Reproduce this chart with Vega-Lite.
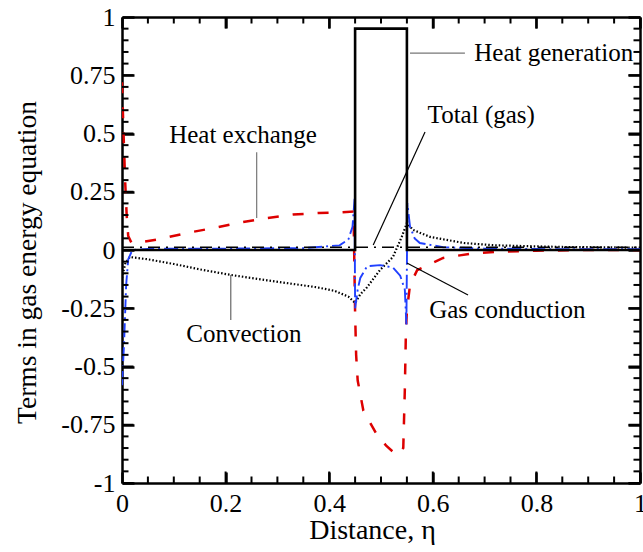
{
  "$schema": "https://vega.github.io/schema/vega-lite/v6.json",
  "width": 518,
  "height": 466,
  "autosize": "none",
  "padding": {"left": 122, "top": 17, "right": 3, "bottom": 69},
  "background": "white",
  "config": {
    "view": {"stroke": null},
    "font": "Liberation Serif",
    "text": {"font": "Liberation Serif"},
    "axis": {"grid": false, "ticks": true, "labelOverlap": false, "labelFlush": false, "domainColor": "black", "domainWidth": 2.5, "tickColor": "black", "labelColor": "black", "titleColor": "black", "labelFont": "Liberation Serif", "titleFont": "Liberation Serif", "titleFontWeight": "normal"}
  },
  "datasets": {
    "curves": [
      {"s": "Heat exchange", "x": 0, "y": 0.72},
      {"s": "Heat exchange", "x": 0.003, "y": 0.5},
      {"s": "Heat exchange", "x": 0.006, "y": 0.3},
      {"s": "Heat exchange", "x": 0.009, "y": 0.15},
      {"s": "Heat exchange", "x": 0.012, "y": 0.06},
      {"s": "Heat exchange", "x": 0.018, "y": 0.032},
      {"s": "Heat exchange", "x": 0.04, "y": 0.035},
      {"s": "Heat exchange", "x": 0.073, "y": 0.047},
      {"s": "Heat exchange", "x": 0.125, "y": 0.073},
      {"s": "Heat exchange", "x": 0.176, "y": 0.094},
      {"s": "Heat exchange", "x": 0.228, "y": 0.118},
      {"s": "Heat exchange", "x": 0.28, "y": 0.137},
      {"s": "Heat exchange", "x": 0.33, "y": 0.152},
      {"s": "Heat exchange", "x": 0.38, "y": 0.159},
      {"s": "Heat exchange", "x": 0.42, "y": 0.161},
      {"s": "Heat exchange", "x": 0.447, "y": 0.165},
      {"s": "Heat exchange", "x": 0.45, "y": -0.27},
      {"s": "Heat exchange", "x": 0.452, "y": -0.45},
      {"s": "Heat exchange", "x": 0.455, "y": -0.56},
      {"s": "Heat exchange", "x": 0.466, "y": -0.69},
      {"s": "Heat exchange", "x": 0.49, "y": -0.785},
      {"s": "Heat exchange", "x": 0.51, "y": -0.84},
      {"s": "Heat exchange", "x": 0.53, "y": -0.88},
      {"s": "Heat exchange", "x": 0.543, "y": -0.85},
      {"s": "Heat exchange", "x": 0.546, "y": -0.6},
      {"s": "Heat exchange", "x": 0.548, "y": -0.36},
      {"s": "Heat exchange", "x": 0.55, "y": -0.26},
      {"s": "Heat exchange", "x": 0.556, "y": -0.15},
      {"s": "Heat exchange", "x": 0.57, "y": -0.086},
      {"s": "Heat exchange", "x": 0.62, "y": -0.034},
      {"s": "Heat exchange", "x": 0.67, "y": -0.017},
      {"s": "Heat exchange", "x": 0.72, "y": -0.008},
      {"s": "Heat exchange", "x": 0.8, "y": -0.003},
      {"s": "Heat exchange", "x": 0.9, "y": 0.0},
      {"s": "Heat exchange", "x": 1, "y": 0.0},

      {"s": "Convection", "x": 0, "y": -0.12},
      {"s": "Convection", "x": 0.006, "y": -0.06},
      {"s": "Convection", "x": 0.015, "y": -0.03},
      {"s": "Convection", "x": 0.05, "y": -0.04},
      {"s": "Convection", "x": 0.1, "y": -0.06},
      {"s": "Convection", "x": 0.15, "y": -0.083},
      {"s": "Convection", "x": 0.21, "y": -0.107},
      {"s": "Convection", "x": 0.28, "y": -0.13},
      {"s": "Convection", "x": 0.376, "y": -0.16},
      {"s": "Convection", "x": 0.41, "y": -0.175},
      {"s": "Convection", "x": 0.437, "y": -0.2},
      {"s": "Convection", "x": 0.45, "y": -0.227},
      {"s": "Convection", "x": 0.46, "y": -0.19},
      {"s": "Convection", "x": 0.473, "y": -0.16},
      {"s": "Convection", "x": 0.498, "y": -0.086},
      {"s": "Convection", "x": 0.523, "y": -0.03},
      {"s": "Convection", "x": 0.54, "y": 0.056},
      {"s": "Convection", "x": 0.55, "y": 0.116},
      {"s": "Convection", "x": 0.562, "y": 0.086},
      {"s": "Convection", "x": 0.595, "y": 0.056},
      {"s": "Convection", "x": 0.66, "y": 0.03},
      {"s": "Convection", "x": 0.72, "y": 0.02},
      {"s": "Convection", "x": 0.85, "y": 0.013},
      {"s": "Convection", "x": 1, "y": 0.01},

      {"s": "Gas conduction", "x": 0, "y": -0.58},
      {"s": "Gas conduction", "x": 0.004, "y": -0.4},
      {"s": "Gas conduction", "x": 0.008, "y": -0.15},
      {"s": "Gas conduction", "x": 0.012, "y": -0.04},
      {"s": "Gas conduction", "x": 0.02, "y": 0.0},
      {"s": "Gas conduction", "x": 0.05, "y": 0.005},
      {"s": "Gas conduction", "x": 0.2, "y": 0.006},
      {"s": "Gas conduction", "x": 0.35, "y": 0.008},
      {"s": "Gas conduction", "x": 0.42, "y": 0.02},
      {"s": "Gas conduction", "x": 0.437, "y": 0.045},
      {"s": "Gas conduction", "x": 0.445, "y": 0.1},
      {"s": "Gas conduction", "x": 0.449, "y": 0.22},
      {"s": "Gas conduction", "x": 0.45, "y": -0.25},
      {"s": "Gas conduction", "x": 0.455, "y": -0.17},
      {"s": "Gas conduction", "x": 0.46, "y": -0.12},
      {"s": "Gas conduction", "x": 0.473, "y": -0.07},
      {"s": "Gas conduction", "x": 0.498, "y": -0.065},
      {"s": "Gas conduction", "x": 0.523, "y": -0.075},
      {"s": "Gas conduction", "x": 0.537, "y": -0.11},
      {"s": "Gas conduction", "x": 0.546, "y": -0.17},
      {"s": "Gas conduction", "x": 0.549, "y": -0.32},
      {"s": "Gas conduction", "x": 0.551, "y": 0.2},
      {"s": "Gas conduction", "x": 0.556, "y": 0.1},
      {"s": "Gas conduction", "x": 0.565, "y": 0.05},
      {"s": "Gas conduction", "x": 0.575, "y": 0.03},
      {"s": "Gas conduction", "x": 0.62, "y": 0.012},
      {"s": "Gas conduction", "x": 0.7, "y": 0.006},
      {"s": "Gas conduction", "x": 0.8, "y": 0.004},
      {"s": "Gas conduction", "x": 1, "y": 0.003},

      {"s": "Total (gas)", "x": 0, "y": 0.012},
      {"s": "Total (gas)", "x": 0.2, "y": 0.012},
      {"s": "Total (gas)", "x": 0.45, "y": 0.012},
      {"s": "Total (gas)", "x": 0.55, "y": 0.012},
      {"s": "Total (gas)", "x": 0.8, "y": 0.012},
      {"s": "Total (gas)", "x": 1, "y": 0.012}
    ],
    "hgen": [
      {"i": 0, "x": 0, "y": 0},
      {"i": 1, "x": 0.45, "y": 0},
      {"i": 2, "x": 0.45, "y": 0.95},
      {"i": 3, "x": 0.55, "y": 0.95},
      {"i": 4, "x": 0.55, "y": 0},
      {"i": 5, "x": 1, "y": 0}
    ],
    "notes": [
      {"label": "Heat generation", "x": 0.68, "y": 0.845},
      {"label": "Total (gas)", "x": 0.59, "y": 0.579},
      {"label": "Heat exchange", "x": 0.091, "y": 0.494},
      {"label": "Convection", "x": 0.124, "y": -0.36},
      {"label": "Gas conduction", "x": 0.593, "y": -0.258}
    ],
    "pointers": [
      {"label": "Heat generation", "x1": 0.556, "y1": 0.845, "x2": 0.662, "y2": 0.845},
      {"label": "Total (gas)", "x1": 0.585, "y1": 0.506, "x2": 0.485, "y2": 0.021},
      {"label": "Heat exchange", "x1": 0.26, "y1": 0.42, "x2": 0.26, "y2": 0.137},
      {"label": "Convection", "x1": 0.21, "y1": -0.107, "x2": 0.21, "y2": -0.3},
      {"label": "Gas conduction", "x1": 0.55, "y1": -0.056, "x2": 0.668, "y2": -0.193}
    ],
    "xt": [
      {"v": 0, "k": "major"}, {"v": 0.05, "k": "minor"}, {"v": 0.1, "k": "minor"}, {"v": 0.15, "k": "minor"},
      {"v": 0.2, "k": "major"}, {"v": 0.25, "k": "minor"}, {"v": 0.3, "k": "minor"}, {"v": 0.35, "k": "minor"},
      {"v": 0.4, "k": "major"}, {"v": 0.45, "k": "minor"}, {"v": 0.5, "k": "minor"}, {"v": 0.55, "k": "minor"},
      {"v": 0.6, "k": "major"}, {"v": 0.65, "k": "minor"}, {"v": 0.7, "k": "minor"}, {"v": 0.75, "k": "minor"},
      {"v": 0.8, "k": "major"}, {"v": 0.85, "k": "minor"}, {"v": 0.9, "k": "minor"}, {"v": 0.95, "k": "minor"},
      {"v": 1, "k": "major"}
    ],
    "yt": [
      {"v": -1, "k": "major"}, {"v": -0.95, "k": "minor"}, {"v": -0.9, "k": "minor"}, {"v": -0.85, "k": "minor"}, {"v": -0.8, "k": "minor"},
      {"v": -0.75, "k": "major"}, {"v": -0.7, "k": "minor"}, {"v": -0.65, "k": "minor"}, {"v": -0.6, "k": "minor"}, {"v": -0.55, "k": "minor"},
      {"v": -0.5, "k": "major"}, {"v": -0.45, "k": "minor"}, {"v": -0.4, "k": "minor"}, {"v": -0.35, "k": "minor"}, {"v": -0.3, "k": "minor"},
      {"v": -0.25, "k": "major"}, {"v": -0.2, "k": "minor"}, {"v": -0.15, "k": "minor"}, {"v": -0.1, "k": "minor"}, {"v": -0.05, "k": "minor"},
      {"v": 0, "k": "major"}, {"v": 0.05, "k": "minor"}, {"v": 0.1, "k": "minor"}, {"v": 0.15, "k": "minor"}, {"v": 0.2, "k": "minor"},
      {"v": 0.25, "k": "major"}, {"v": 0.3, "k": "minor"}, {"v": 0.35, "k": "minor"}, {"v": 0.4, "k": "minor"}, {"v": 0.45, "k": "minor"},
      {"v": 0.5, "k": "major"}, {"v": 0.55, "k": "minor"}, {"v": 0.6, "k": "minor"}, {"v": 0.65, "k": "minor"}, {"v": 0.7, "k": "minor"},
      {"v": 0.75, "k": "major"}, {"v": 0.8, "k": "minor"}, {"v": 0.85, "k": "minor"}, {"v": 0.9, "k": "minor"}, {"v": 0.95, "k": "minor"},
      {"v": 1, "k": "major"}
    ]
  },
  "resolve": {"axis": {"x": "independent", "y": "independent"}, "scale": {"color": "independent"}},
  "layer": [
    {
      "data": {"name": "curves"},
      "mark": {"type": "line", "clip": true},
      "encoding": {
        "x": {"field": "x", "type": "quantitative", "scale": {"domain": [0, 1], "nice": false, "zero": false},
          "axis": {"orient": "bottom", "title": "Distance, η", "titleFontSize": 28, "titleX": 250, "titleY": 55, "titleBaseline": "alphabetic", "titleAlign": "center",
            "labelFontSize": 26, "labelPadding": 18, "values": [0, 0.2, 0.4, 0.6, 0.8, 1], "format": "~g", "ticks": true, "tickColor": "black", "tickSize": -11, "tickWidth": 2.5}},
        "y": {"field": "y", "type": "quantitative", "scale": {"domain": [-1, 1], "nice": false, "zero": false},
          "axis": {"orient": "left", "title": "Terms in gas energy equation", "titleFontSize": 27.5, "titleAngle": -90, "titleX": -87, "titleY": 245, "titleBaseline": "alphabetic", "titleAlign": "center",
            "labelFontSize": 26, "labelPadding": 19, "values": [-1, -0.75, -0.5, -0.25, 0, 0.25, 0.5, 0.75, 1],
            "labelExpr": "datum.value<0 ? '-' + format(-datum.value,'~g') : format(datum.value,'~g')", "ticks": true, "tickColor": "black", "tickSize": -12, "tickWidth": 2.5}},
        "color": {"field": "s", "type": "nominal", "legend": null,
          "scale": {"domain": ["Heat exchange", "Convection", "Gas conduction", "Total (gas)"], "range": ["#dd0000", "#000000", "#2040ff", "#000000"]}},
        "strokeDash": {"field": "s", "type": "nominal", "legend": null,
          "scale": {"domain": ["Heat exchange", "Convection", "Gas conduction", "Total (gas)"], "range": [[11, 14], [1.5, 2], [14, 4, 2, 4], [12, 6, 2, 6]]}},
        "strokeWidth": {"field": "s", "type": "nominal", "legend": null,
          "scale": {"domain": ["Heat exchange", "Convection", "Gas conduction", "Total (gas)"], "range": [2.5, 1.6, 2.5, 2.5]}}
      }
    },
    {
      "data": {"name": "hgen"},
      "mark": {"type": "line", "color": "black", "strokeWidth": 2.6},
      "encoding": {
        "x": {"field": "x", "type": "quantitative",
          "axis": {"orient": "top", "title": null, "labels": false, "values": [0, 0.2, 0.4, 0.6, 0.8, 1], "ticks": true, "tickColor": "black", "tickSize": -11, "tickWidth": 2.5}},
        "y": {"field": "y", "type": "quantitative",
          "axis": {"orient": "right", "title": null, "labels": false, "values": [-1, -0.75, -0.5, -0.25, 0, 0.25, 0.5, 0.75, 1], "ticks": true, "tickColor": "black", "tickSize": -12, "tickWidth": 2.5}},
        "order": {"field": "i", "type": "quantitative"}
      }
    },
    {
      "data": {"name": "xt"},
      "mark": {"type": "tick", "orient": "vertical", "clip": true, "color": "black", "opacity": 1, "thickness": 2},
      "encoding": {
        "x": {"field": "v", "type": "quantitative", "axis": null},
        "y": {"datum": -1, "type": "quantitative", "axis": null},
        "size": {"field": "k", "type": "nominal", "legend": null, "scale": {"domain": ["major", "minor"], "range": [23, 13]}}
      }
    },
    {
      "data": {"name": "xt"},
      "mark": {"type": "tick", "orient": "vertical", "clip": true, "color": "black", "opacity": 1, "thickness": 2},
      "encoding": {
        "x": {"field": "v", "type": "quantitative", "axis": null},
        "y": {"datum": 1, "type": "quantitative", "axis": null},
        "size": {"field": "k", "type": "nominal", "legend": null, "scale": {"domain": ["major", "minor"], "range": [23, 13]}}
      }
    },
    {
      "data": {"name": "yt"},
      "mark": {"type": "tick", "orient": "horizontal", "clip": true, "color": "black", "opacity": 1, "thickness": 2},
      "encoding": {
        "y": {"field": "v", "type": "quantitative", "axis": null},
        "x": {"datum": 0, "type": "quantitative", "axis": null},
        "size": {"field": "k", "type": "nominal", "legend": null, "scale": {"domain": ["major", "minor"], "range": [23, 13]}}
      }
    },
    {
      "data": {"name": "yt"},
      "mark": {"type": "tick", "orient": "horizontal", "clip": true, "color": "black", "opacity": 1, "thickness": 2},
      "encoding": {
        "y": {"field": "v", "type": "quantitative", "axis": null},
        "x": {"datum": 1, "type": "quantitative", "axis": null},
        "size": {"field": "k", "type": "nominal", "legend": null, "scale": {"domain": ["major", "minor"], "range": [23, 13]}}
      }
    },
    {
      "data": {"name": "pointers"},
      "mark": {"type": "rule", "strokeWidth": 1.2},
      "encoding": {
        "x": {"field": "x1", "type": "quantitative", "axis": null},
        "y": {"field": "y1", "type": "quantitative", "axis": null},
        "x2": {"field": "x2"},
        "y2": {"field": "y2"},
        "color": {"field": "label", "type": "nominal", "legend": null,
          "scale": {"domain": ["Heat generation", "Total (gas)", "Heat exchange", "Convection", "Gas conduction"], "range": ["#777777", "#000000", "#777777", "#666666", "#000000"]}}
      }
    },
    {
      "data": {"name": "notes"},
      "mark": {"type": "text", "align": "left", "baseline": "middle", "fontSize": 25, "font": "Liberation Serif", "color": "black"},
      "encoding": {
        "x": {"field": "x", "type": "quantitative", "axis": null},
        "y": {"field": "y", "type": "quantitative", "axis": null},
        "text": {"field": "label"}
      }
    }
  ]
}
